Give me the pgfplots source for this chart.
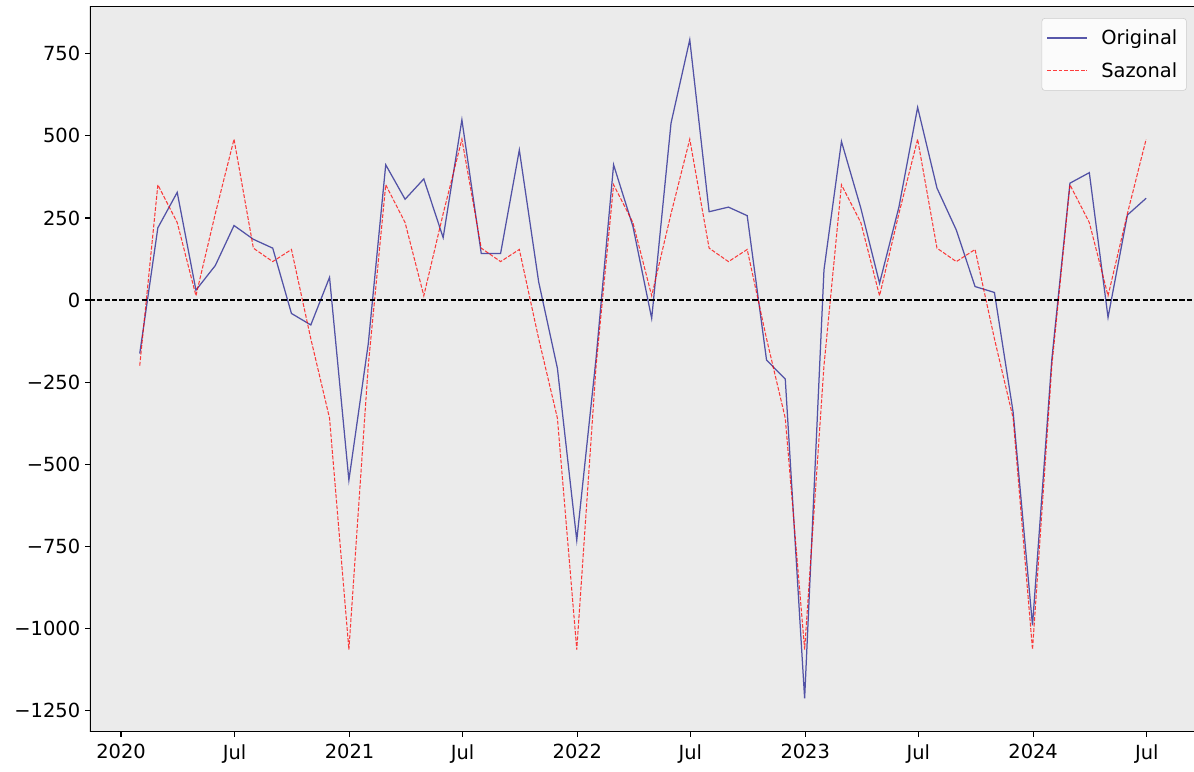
\documentclass[border=0pt]{standalone}
\usepackage{pgfplots}
\usepackage{pgfplotstable}
\pgfplotsset{compat=1.18}
\usepackage{fontspec}
\setmainfont{DejaVu Sans}
\definecolor{axbg}{RGB}{235,235,235}
\definecolor{navyc}{RGB}{0,0,128}
\pgfplotstableread{
x orig saz
30 -163 -200
59 220 351
90 328 236
120 30 13
151 105 263
181 227 490
212 185 158
243 158 117
273 -41 154
304 -76 -118
334 69 -360
365 -549 -1065
396 -134 -200
424 412 351
455 307 236
485 369 13
516 190 263
546 549 490
577 142 158
608 142 117
638 457 154
669 55 -118
699 -208 -360
730 -732 -1065
761 -176 -200
789 412 351
820 224 236
850 -56 13
881 539 263
911 793 490
942 269 158
973 283 117
1003 257 154
1034 -183 -118
1064 -241 -360
1095 -1214 -1065
1126 92 -200
1154 483 351
1185 280 236
1215 51 13
1246 283 263
1276 587 490
1307 341 158
1338 213 117
1368 41 154
1399 23 -118
1429 -342 -360
1460 -991 -1065
1491 -180 -200
1520 356 351
1551 388 236
1581 -53 13
1612 259 263
1642 310 490
}\datatable
\begin{document}
\begin{tikzpicture}
\path[use as bounding box] (-64.8pt,-28.8pt) rectangle (794.9pt,527pt);
\begin{axis}[
  at={(0,0)}, anchor=south west,
  scale only axis, width=794.9pt, height=522pt,
  xmin=-49.7, xmax=1718.7, ymin=-1316, ymax=893,
  axis background/.style={fill=axbg},
  axis line style={draw=none},
  tick align=outside, major tick length=3.5pt,
  tick style={black, line width=0.8pt},
  xtick pos=left, ytick pos=left,
  xtick={0,182,366,547,731,912,1096,1277,1461,1643},
  xticklabels={2020,Jul,2021,Jul,2022,Jul,2023,Jul,2024,Jul},
  ytick={-1250,-1000,-750,-500,-250,0,250,500,750},
  yticklabels={−1250,−1000,−750,−500,−250,0,250,500,750},
  ticklabel style={font=\fontsize{14}{16}\selectfont},
  xticklabel style={yshift=-2pt},
  legend cell align=left,
  legend image code/.code={\draw[#1] (0pt,0pt) -- (28.8pt,0pt);},
  legend style={at={(1,1)}, anchor=north east, xshift=-5.3pt, yshift=-8.1pt,
    draw=black!20, fill=white, fill opacity=0.8, text opacity=1, draw opacity=1,
    rounded corners=2pt, font=\fontsize{14}{16}\selectfont,
    inner xsep=3.5pt, inner ysep=7pt, row sep=9.5pt,
    nodes={inner xsep=3pt, inner ysep=1pt},
    /tikz/column 1/.style={column sep=6.5pt}},
]
\addplot[navyc, opacity=0.65, line width=0.9pt] table[x=x, y=orig] {\datatable};
\addlegendentry{Original}
\addplot[red, opacity=0.75, line width=0.75pt, dash pattern=on 2.8pt off 1.2pt] table[x=x, y=saz] {\datatable};
\addlegendentry{Sazonal}
\draw[black, line width=1pt, dash pattern=on 3.7pt off 1.6pt] (axis cs:-49.7,0) -- (axis cs:1718.7,0);
\draw[black, line width=0.8pt] (rel axis cs:1,1) -- (rel axis cs:0,1) -- (rel axis cs:0,0) -- (rel axis cs:1,0);
\end{axis}
\end{tikzpicture}
\end{document}
